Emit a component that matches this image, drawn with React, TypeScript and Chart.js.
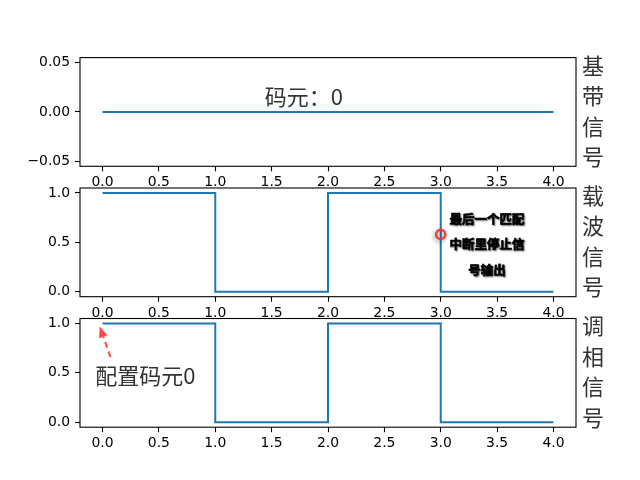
import React, { useEffect, useRef } from 'react';
import { Chart, registerables } from 'chart.js';

Chart.register(...registerables);

// ---- data ----
const xValues = [0, 1, 2, 3, 4];
const basebandValues = [0, 0, 0, 0, 0];
const carrierValues = [1, 0, 1, 0, 0];
const modulatedValues = [1, 0, 1, 0, 0];

const xTickValues = [0, 0.5, 1, 1.5, 2, 2.5, 3, 3.5, 4];
const xTickLabels = ['0.0', '0.5', '1.0', '1.5', '2.0', '2.5', '3.0', '3.5', '4.0'];
const yTickValuesTop = [-0.05, 0, 0.05];
const yTickLabelsTop = ['\u22120.05', '0.00', '0.05'];
const yTickValuesStep = [0, 0.5, 1];
const yTickLabelsStep = ['0.0', '0.5', '1.0'];

const sideLabels = ['基带信号', '载波信号', '调相信号'];
const symbolText = '码元：0';
const noteLines = ['最后一个匹配', '中断里停止信', '号输出'];
const configText = '配置码元0';

const W = 640;
const H = 480;
const AX_LEFT = 80;
const AX_RIGHT = 576;
const PANEL_H = 108.7;
const PANEL_TOPS = [57.6, 188.0, 318.5];
const X_AXIS_H = 30;

const RED = 'rgba(255,40,40,0.85)';
const CJK = '"Noto Sans CJK SC", "Noto Sans", sans-serif';
const TICK_FONT = { family: 'DejaVu Sans', size: 13.9 };

type Extra = (chart: any) => void;

function makeOverlay(panelIndex: number, extra: Extra) {
  return {
    id: 'overlay' + panelIndex,
    afterDraw(chart: any) {
      const { ctx, chartArea: a } = chart;
      ctx.save();
      // full box (spines)
      ctx.strokeStyle = '#000';
      ctx.lineWidth = 1.1;
      ctx.strokeRect(a.left, a.top, a.right - a.left, a.bottom - a.top);
      // side label, one character per line, on the right
      const label = sideLabels[panelIndex];
      const chars = Array.from(label);
      const spacing = 30.5;
      const cy = (a.top + a.bottom) / 2 - 1;
      ctx.fillStyle = '#333';
      ctx.font = `22px ${CJK}`;
      ctx.textAlign = 'center';
      ctx.textBaseline = 'middle';
      chars.forEach((c, i) => {
        ctx.fillText(c, 593, cy + (i - (chars.length - 1) / 2) * spacing);
      });
      ctx.restore();
      ctx.save();
      extra(chart);
      ctx.restore();
    },
  };
}

function buildConfig(panelIndex: number, series: number[], yTicks: number[], yLabels: string[], yMin: number, yMax: number, extra: Extra) {
  const top = PANEL_TOPS[panelIndex];
  const bottom = top + PANEL_H;
  return {
    type: 'line' as const,
    data: {
      datasets: [
        {
          data: xValues.map((x, i) => ({ x, y: series[i] })),
          borderColor: '#1f77b4',
          borderWidth: 2,
          pointRadius: 0,
          stepped: 'before' as const,
          fill: false,
          borderCapStyle: 'butt' as const,
        },
      ],
    },
    options: {
      animation: false as const,
      responsive: false,
      devicePixelRatio: 1,
      layout: {
        padding: { top, bottom: H - bottom - X_AXIS_H, left: 0, right: W - AX_RIGHT },
      },
      plugins: { legend: { display: false }, tooltip: { enabled: false } },
      scales: {
        x: {
          type: 'linear' as const,
          min: -0.2,
          max: 4.2,
          afterBuildTicks: (s: any) => {
            s.ticks = xTickValues.map((v) => ({ value: v }));
          },
          afterFit: (s: any) => {
            s.height = X_AXIS_H;
          },
          ticks: {
            autoSkip: false,
            maxRotation: 0,
            padding: 3,
            color: '#000',
            font: TICK_FONT,
            callback: (v: any) => {
              const i = xTickValues.findIndex((t) => Math.abs(t - v) < 1e-9);
              return i >= 0 ? xTickLabels[i] : '';
            },
          },
          grid: { display: true, drawOnChartArea: false, drawTicks: true, tickLength: 5, tickColor: '#000', tickWidth: 1.1, color: '#000' },
          border: { display: false },
        },
        y: {
          type: 'linear' as const,
          min: yMin,
          max: yMax,
          afterBuildTicks: (s: any) => {
            s.ticks = yTicks.map((v) => ({ value: v }));
          },
          afterFit: (s: any) => {
            s.width = AX_LEFT;
          },
          ticks: {
            autoSkip: false,
            padding: 5,
            color: '#000',
            font: TICK_FONT,
            callback: (v: any) => {
              const i = yTicks.findIndex((t) => Math.abs(t - v) < 1e-9);
              return i >= 0 ? yLabels[i] : '';
            },
          },
          grid: { display: true, drawOnChartArea: false, drawTicks: true, tickLength: 5, tickColor: '#000', tickWidth: 1.1, color: '#000' },
          border: { display: false },
        },
      },
    },
    plugins: [makeOverlay(panelIndex, extra)],
  };
}

// annotation drawers
const drawSymbol: Extra = (chart) => {
  const { ctx, scales } = chart;
  const x = scales.x.getPixelForValue(1.44);
  const y = scales.y.getPixelForValue(0.0155);
  ctx.fillStyle = '#333';
  ctx.font = `22px ${CJK}`;
  ctx.textAlign = 'left';
  ctx.textBaseline = 'middle';
  ctx.fillText(symbolText, x, y);
};

const drawNote: Extra = (chart) => {
  const { ctx, scales } = chart;
  // marker
  const mx = scales.x.getPixelForValue(3);
  const my = scales.y.getPixelForValue(0.58);
  ctx.save();
  ctx.shadowColor = 'rgba(0,0,0,0.4)';
  ctx.shadowBlur = 4;
  ctx.shadowOffsetX = -1;
  ctx.shadowOffsetY = 2;
  ctx.strokeStyle = 'rgba(255,50,50,0.9)';
  ctx.lineWidth = 2.6;
  ctx.beginPath();
  ctx.arc(mx, my, 4.6, 0, Math.PI * 2);
  ctx.stroke();
  ctx.restore();
  // bold note text
  const tx = scales.x.getPixelForValue(3.41);
  const ty = scales.y.getPixelForValue(0.478);
  ctx.save();
  ctx.font = `bold 12.5px ${CJK}`;
  ctx.textAlign = 'center';
  ctx.textBaseline = 'middle';
  ctx.shadowColor = 'rgba(0,0,0,0.45)';
  ctx.shadowBlur = 1.5;
  ctx.shadowOffsetX = 1;
  ctx.shadowOffsetY = 1;
  ctx.fillStyle = '#000';
  ctx.strokeStyle = '#000';
  ctx.lineWidth = 0.7;
  ctx.lineJoin = 'round';
  const lh = 25.5;
  noteLines.forEach((line, i) => {
    ctx.strokeText(line, tx, ty + (i - 1) * lh);
    ctx.fillText(line, tx, ty + (i - 1) * lh);
  });
  ctx.restore();
};

const drawConfig: Extra = (chart) => {
  const { ctx, scales } = chart;
  const tx = scales.x.getPixelForValue(-0.065);
  const ty = scales.y.getPixelForValue(0.468);
  ctx.fillStyle = '#333';
  ctx.font = `22px ${CJK}`;
  ctx.textAlign = 'left';
  ctx.textBaseline = 'middle';
  ctx.fillText(configText, tx, ty);
  // arrow
  const x0 = scales.x.getPixelForValue(0.07);
  const y0 = scales.y.getPixelForValue(0.66);
  const x1 = scales.x.getPixelForValue(-0.025);
  const y1 = scales.y.getPixelForValue(0.97);
  const ang = Math.atan2(y1 - y0, x1 - x0);
  const headLen = 11;
  const headW = 4.5;
  const bx = x1 - headLen * Math.cos(ang);
  const by = y1 - headLen * Math.sin(ang);
  ctx.strokeStyle = RED;
  ctx.fillStyle = RED;
  ctx.lineWidth = 2;
  ctx.setLineDash([6, 4]);
  ctx.beginPath();
  ctx.moveTo(x0, y0);
  ctx.lineTo(bx, by);
  ctx.stroke();
  ctx.setLineDash([]);
  ctx.beginPath();
  ctx.moveTo(x1, y1);
  ctx.lineTo(bx + headW * Math.sin(ang), by - headW * Math.cos(ang));
  ctx.lineTo(bx - headW * Math.sin(ang), by + headW * Math.cos(ang));
  ctx.closePath();
  ctx.fill();
};

export default function App() {
  const c1 = useRef<HTMLCanvasElement>(null);
  const c2 = useRef<HTMLCanvasElement>(null);
  const c3 = useRef<HTMLCanvasElement>(null);

  useEffect(() => {
    const charts: Chart[] = [];
    if (c1.current) {
      charts.push(new Chart(c1.current, buildConfig(0, basebandValues, yTickValuesTop, yTickLabelsTop, -0.055, 0.055, drawSymbol) as any));
    }
    if (c2.current) {
      charts.push(new Chart(c2.current, buildConfig(1, carrierValues, yTickValuesStep, yTickLabelsStep, -0.05, 1.05, drawNote) as any));
    }
    if (c3.current) {
      charts.push(new Chart(c3.current, buildConfig(2, modulatedValues, yTickValuesStep, yTickLabelsStep, -0.05, 1.05, drawConfig) as any));
    }
    return () => charts.forEach((c) => c.destroy());
  }, []);

  const canvasStyle: React.CSSProperties = { position: 'absolute', left: 0, top: 0, width: W, height: H };
  return (
    <div style={{ position: 'fixed', left: 0, top: 0, width: W, height: H, background: '#fff' }}>
      <canvas ref={c1} width={W} height={H} style={canvasStyle} />
      <canvas ref={c2} width={W} height={H} style={canvasStyle} />
      <canvas ref={c3} width={W} height={H} style={canvasStyle} />
    </div>
  );
}
